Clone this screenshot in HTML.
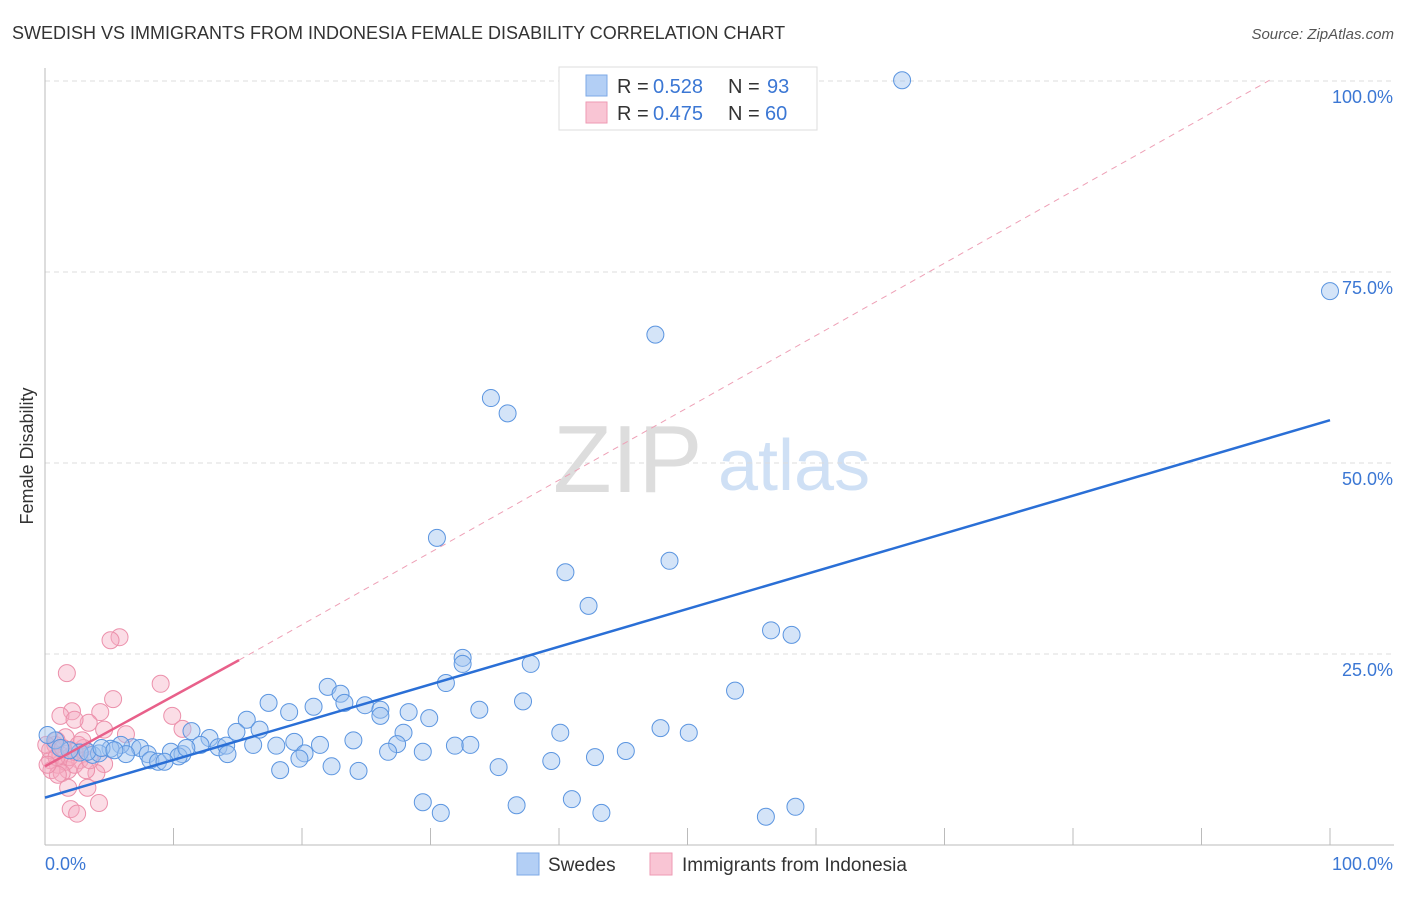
<!DOCTYPE html>
<html><head><meta charset="utf-8"><style>
body{margin:0;background:#fff;font-family:"Liberation Sans",sans-serif;}
svg text{font-family:"Liberation Sans",sans-serif;}
</style></head><body>
<svg id="chart" width="1406" height="892" xmlns="http://www.w3.org/2000/svg">
<text x="12" y="39" font-size="18" fill="#333">SWEDISH VS IMMIGRANTS FROM INDONESIA FEMALE DISABILITY CORRELATION CHART</text>
<text x="1394" y="39" font-size="15" fill="#555" text-anchor="end" font-style="italic">Source: ZipAtlas.com</text>
<g>
<text x="553" y="492" font-size="96" fill="#ddd" font-family="Liberation Serif">ZIP</text>
<text x="718" y="490" font-size="72" fill="#cfe0f5">atlas</text>
</g>
<text transform="translate(33,456) rotate(-90)" font-size="18" fill="#333" text-anchor="middle">Female Disability</text>
<g id="grid"></g>
<g id="axes"></g>
<g id="marks"></g>
<g>
<rect x="559" y="67" width="258" height="63" fill="#fff" stroke="#ddd"/>
<rect x="586" y="75" width="21" height="21" fill="#b3cff5" stroke="#7ea9e6"/>
<text x="617" y="93" font-size="20" fill="#333">R = </text><text x="653" y="93" font-size="20" fill="#3b77d4">0.528</text>
<text x="728" y="93" font-size="20" fill="#333">N = </text><text x="767" y="93" font-size="20" fill="#3b77d4">93</text>
<rect x="586" y="102" width="21" height="21" fill="#f9c5d4" stroke="#ee9ab3"/>
<text x="617" y="120" font-size="20" fill="#333">R = </text><text x="653" y="120" font-size="20" fill="#3b77d4">0.475</text>
<text x="728" y="120" font-size="20" fill="#333">N = </text><text x="765" y="120" font-size="20" fill="#3b77d4">60</text>
</g>
<g>
<rect x="517" y="853" width="22" height="22" fill="#b3cff5" stroke="#7ea9e6"/>
<text x="548" y="871" font-size="19" fill="#333">Swedes</text>
<rect x="650" y="853" width="22" height="22" fill="#f9c5d4" stroke="#ee9ab3"/>
<text x="682" y="871" font-size="19" fill="#333">Immigrants from Indonesia</text>
</g>
</svg>
<script>
const blueX=[66.7,100,47.5,34.7,36.0,30.5,40.5,48.6,42.3,56.5,58.1,32.5,32.5,37.8,31.2,53.7,22.0,23.0,17.4,23.3,24.9,20.9,37.2,26.1,19.0,33.8,28.3,26.1,29.9,15.7,47.9,11.4,16.7,14.9,27.9,40.1,50.1,12.8,24.0,19.4,27.4,21.4,31.9,33.1,18.0,16.2,12.1,13.5,14.1,6.8,5.9,7.4,5.1,45.2,26.7,29.4,20.2,9.8,10.7,8.0,14.2,6.3,3.7,4.2,10.4,42.8,8.2,19.8,39.4,8.8,9.3,22.3,35.3,18.3,24.4,2.7,1.9,0.8,0.2,29.4,41.0,36.7,58.4,30.8,43.3,56.1,1.2,3.3,4.4,5.4,11.0,54.1];
const blueY=[100.1,72.5,66.8,58.5,56.5,40.2,35.7,37.2,31.3,28.1,27.5,24.5,23.7,23.7,21.2,20.2,20.7,19.8,18.6,18.6,18.3,18.1,18.8,17.7,17.4,17.7,17.4,16.9,16.6,16.4,15.3,14.9,15.1,14.8,14.7,14.7,14.7,14.0,13.7,13.5,13.2,13.1,13.0,13.1,13.0,13.1,13.1,12.8,13.0,12.8,13.1,12.7,12.6,12.3,12.2,12.2,12.0,12.2,11.9,11.9,11.9,11.9,11.8,12.0,11.6,11.5,11.1,11.3,11.0,10.9,10.9,10.3,10.2,9.8,9.7,12.1,12.4,13.7,14.4,5.6,6.0,5.2,5.0,4.2,4.2,3.7,12.7,12.2,12.7,12.4,12.7,95.8];
const pinkX=[5.8,5.1,1.7,9.0,5.3,9.9,2.1,1.2,4.3,3.4,2.3,4.6,10.7,6.3,1.6,3.0,2.7,4.6,1.8,4.0,1.0,0.4,0.4,0.8,1.2,1.6,1.9,2.3,0.5,1.3,3.2,1.8,3.3,4.2,2.0,2.5,0.9,2.6,0.1,3.5,1.0,2.3,0.9,0.2,1.4,2.9];
const pinkY=[27.2,26.8,22.5,21.1,19.1,16.9,17.5,16.9,17.4,16.0,16.4,15.1,15.2,14.5,14.1,12.7,11.1,10.6,9.8,9.4,10.5,11.1,12.4,13.1,11.8,10.9,11.5,10.5,9.8,9.4,9.8,7.5,7.5,5.5,4.7,4.1,13.7,13.1,13.1,11.1,9.2,12.2,11.5,10.5,12.7,13.7];
const blueTrend=[6.2,55.6];
const pinkTrend=[10.3,24.2,15.1];
const pinkDash=[95.3,100.1];
const yTicks=[25,50,75,100];
const yTickLabels=["25.0%","50.0%","75.0%","100.0%"];
const xTicks=[0,10,20,30,40,50,60,70,80,90,100];

const NS="http://www.w3.org/2000/svg";
const sx=v=>45+v*12.85, sy=v=>845-v*7.64;
function mk(tag,attrs,parent){const e=document.createElementNS(NS,tag);for(const k in attrs)e.setAttribute(k,attrs[k]);document.getElementById(parent).appendChild(e);return e;}
yTicks.forEach((t,i)=>{
 const l=mk('line',{x1:45,x2:1394,y1:sy(t),y2:sy(t),stroke:'#ddd','stroke-dasharray':'5,4'},'grid');
 
 
 const tx=mk('text',{x:1393,y:sy(t)+22,'font-size':18,fill:'#3b77d4','text-anchor':'end'},'grid');
 tx.textContent=yTickLabels[i];
 
 
});
const ya=mk('line',{x1:45,x2:45,y1:68,y2:845,stroke:'#bbb'},'axes');


const xa=mk('line',{x1:45,x2:1394,y1:845,y2:845,stroke:'#bbb'},'axes');


xTicks.forEach(t=>{const l=mk('line',{x1:sx(t),x2:sx(t),y1:828,y2:845,stroke:'#bbb'},'axes');
 
 });
const x0=mk('text',{x:45,y:870,'font-size':18,fill:'#3b77d4'},'axes');x0.textContent='0.0%';


const x1=mk('text',{x:1393,y:870,'font-size':18,fill:'#3b77d4','text-anchor':'end'},'axes');x1.textContent='100.0%';


const pd=mk('line',{x1:sx(pinkTrend[2]),y1:sy(pinkTrend[1]),x2:sx(pinkDash[0]),y2:sy(pinkDash[1]),stroke:'#eea0b6','stroke-dasharray':'6,5','stroke-width':1},'marks');


pinkX.forEach((v,i)=>{const c=mk('circle',{cx:sx(v),cy:sy(pinkY[i]),r:8.5,fill:'rgba(246,170,192,0.4)',stroke:'#ec90ab','stroke-width':1},'marks');
 
 });
blueX.forEach((v,i)=>{const c=mk('circle',{cx:sx(v),cy:sy(blueY[i]),r:8.5,fill:'rgba(160,195,240,0.45)',stroke:'#5b95e0','stroke-width':1},'marks');
 
 });
const bt=mk('line',{x1:sx(0),y1:sy(blueTrend[0]),x2:sx(100),y2:sy(blueTrend[1]),stroke:'#2a6fd6','stroke-width':2.5},'marks');


const pt=mk('line',{x1:sx(0),y1:sy(pinkTrend[0]),x2:sx(pinkTrend[2]),y2:sy(pinkTrend[1]),stroke:'#e8608a','stroke-width':2.5},'marks');


</script>
</body></html>
